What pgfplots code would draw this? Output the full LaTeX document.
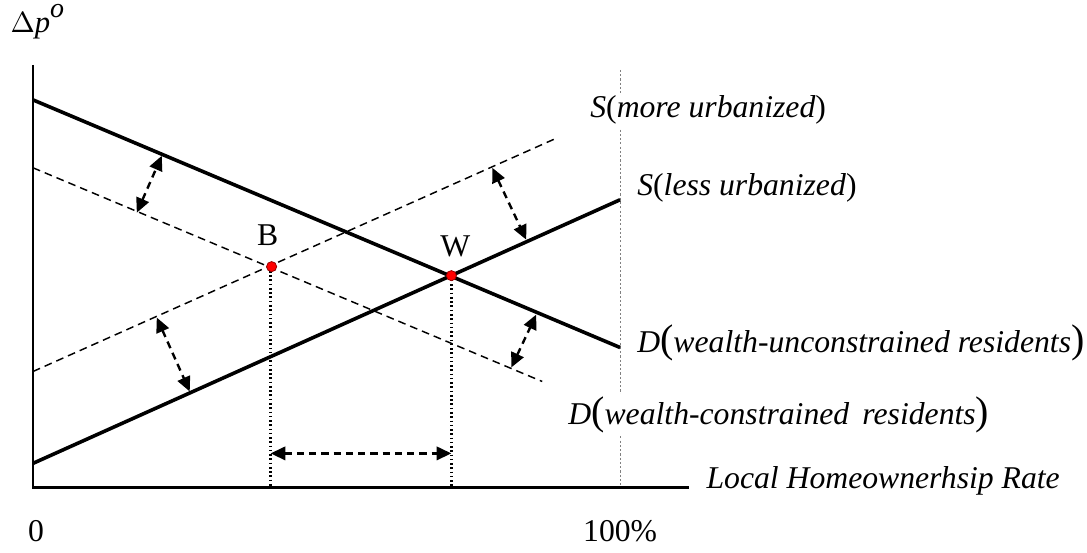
\documentclass[border=0pt]{standalone}
\usepackage{fontspec}
\setmainfont{Liberation Serif}
\usepackage{pgfplots}
\pgfplotsset{compat=1.18}
\usetikzlibrary{arrows.meta}
\begin{document}
\fontsize{11.9}{14}\selectfont
\begin{tikzpicture}
\begin{axis}[
  scale only axis, width=407.6pt, height=205.5pt,
  xmin=0, xmax=1087, ymin=0, ymax=548,
  axis lines=none, clip=false,
]
% bounding box
\addplot[draw=none, forget plot] coordinates {(0,0) (1087,548)};
% grey dotted 100% line
\addplot[gray, line width=0.4pt, dash pattern=on 0.8pt off 0.8pt] coordinates {(621,478) (621,60)};
% axes
\addplot[black, line width=0.9pt] coordinates {(33,483) (33,60) (690,60)};
% dotted verticals
\addplot[black, line width=0.85pt, dash pattern=on 0.6pt off 1.0pt] coordinates {(271,281) (271,60)};
\addplot[black, line width=0.85pt, dash pattern=on 0.6pt off 1.0pt] coordinates {(452,272) (452,60)};
% dashed curves
\addplot[black, line width=0.55pt, dash pattern=on 2.9pt off 1.9pt] coordinates {(33,176) (558,410)};
\addplot[black, line width=0.55pt, dash pattern=on 2.9pt off 1.9pt] coordinates {(33,380) (543,166)};
% solid curves
\addplot[black, line width=1.35pt] coordinates {(33,448) (621,200)};
\addplot[black, line width=1.35pt] coordinates {(33,84) (621,348)};
% shift arrows
\pgfplotsset{shiftarrow/.style={black, line width=0.9pt, dash pattern=on 2.7pt off 1.9pt, {Triangle[length=5.5pt,width=5pt]}-{Triangle[length=5.5pt,width=5pt]}}}
\addplot[shiftarrow] coordinates {(137,335) (162,392)};
\addplot[shiftarrow] coordinates {(493,380) (527,308)};
\addplot[shiftarrow] coordinates {(157,230) (190,156)};
\addplot[shiftarrow] coordinates {(512,180) (537,233)};
\addplot[shiftarrow] coordinates {(271,94) (452,94)};
% equilibrium points
\addplot[only marks, mark=*, mark size=1.9pt, mark options={fill=red, draw=red!60!black, line width=0.3pt}] coordinates {(272,281) (452,272)};
% labels
\node[anchor=base west, inner sep=0pt] at (axis cs:10,515) {\fontsize{11.5}{13}\selectfont{\fontsize{10.5}{11}\selectfont$\Delta$}\textit{p}\raisebox{0.5em}{\fontsize{10.5}{12}\selectfont\textit{o}}};
\node at (axis cs:268,313) {B};
\node at (axis cs:456,301) {W};
\node[anchor=west, fill=white, inner sep=1pt] at (axis cs:588,438) {\textit{S}(\textit{more urbanized})};
\node[anchor=west, fill=white, inner sep=1pt] at (axis cs:635,360) {\textit{S}(\textit{less urbanized})};
\node[anchor=west, fill=white, inner sep=1pt] at (axis cs:635,205) {\textit{D}{\fontsize{15}{15}\selectfont(}\textit{wealth-unconstrained residents}{\fontsize{15}{15}\selectfont)}};
\node[anchor=west, fill=white, inner sep=1pt] at (axis cs:566,133) {\textit{D}{\fontsize{15}{15}\selectfont(}\textit{wealth-constrained\, residents}{\fontsize{15}{15}\selectfont)}};
\node[anchor=base west, inner sep=0pt] at (axis cs:707,59) {\textit{Local Homeownerhsip Rate}};
\node at (axis cs:36,16) {0};
\node at (axis cs:621,16) {100\%};
\end{axis}
\end{tikzpicture}
\end{document}
